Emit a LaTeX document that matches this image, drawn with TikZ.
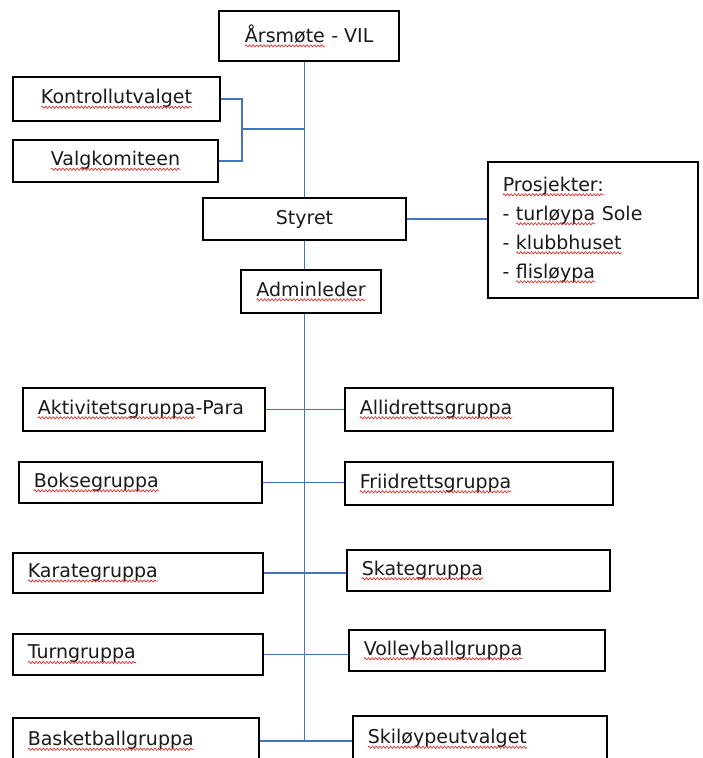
\documentclass[tikz,border=0pt]{standalone}
\usepackage{fontspec}
\setmainfont{DejaVu Sans}
\usetikzlibrary{decorations.pathmorphing}
\definecolor{lineblue}{RGB}{68,114,196}
\definecolor{spellred}{RGB}{230,30,30}
\newcommand\spl[1]{\tikz[x=1pt,y=1pt,baseline=(wd.base)]{\node[inner sep=0pt, outer sep=0pt, draw=none, minimum width=0pt, minimum height=0pt, text width={}, align=none] (wd) {#1};
  \draw[spellred, line width=0.6pt, decorate, decoration={snake, amplitude=1.1pt, segment length=3.6pt}] ([yshift=-3.5pt]wd.base west) -- ([yshift=-3.5pt]wd.base east);}}
\begin{document}
\begin{tikzpicture}[x=1pt,y=-1pt,
  box/.style={draw=black, line width=1.7pt, inner sep=0pt, font=\fontsize{19}{23}\selectfont, text=black!90},
  lbox/.style={box, align=left, inner xsep=14.5pt},
  conn/.style={draw=lineblue, line width=1.7pt}]
\clip (0,0) rectangle (703,758);
% top part
\node[box, minimum width=180pt, minimum height=50pt] (ars) at (309,36) {\spl{Årsmøte} - VIL};
\node[box, minimum width=207pt, minimum height=44pt] (kont) at (116.5,99) {\spl{Kontrollutvalget}};
\node[box, minimum width=205pt, minimum height=42pt] (valg) at (115.5,161) {\spl{Valgkomiteen}};
\node[box, minimum width=203pt, minimum height=42pt] (styret) at (304.5,219) {Styret};
\node[box, minimum width=140pt, minimum height=43pt] (admin) at (311,291.5) {\spl{Adminleder}};
\node[box, align=left, text width=181pt, inner xsep=14.5pt, minimum height=136pt, font=\fontsize{19}{29}\selectfont] (prosj) at (593,230)
  {\spl{Prosjekter:}\\- \spl{turløypa} Sole\\- \spl{klubbhuset}\\- \spl{flisløypa}};
% groups
\node[lbox, text width=213pt, minimum height=43pt] (akt) at (144,409.5) {\spl{Aktivitetsgruppa}-Para};
\node[lbox, text width=239pt, minimum height=43pt] (alli) at (479,409.5) {\spl{Allidrettsgruppa}};
\node[lbox, text width=214pt, minimum height=41pt] (boks) at (140.5,482.5) {\spl{Boksegruppa}};
\node[lbox, text width=239pt, minimum height=43pt] (fri) at (479,483.5) {\spl{Friidrettsgruppa}};
\node[lbox, text width=221pt, minimum height=40pt] (kar) at (138,573) {\spl{Karategruppa}};
\node[lbox, text width=234pt, minimum height=41pt] (skate) at (478.5,570.5) {\spl{Skategruppa}};
\node[lbox, text width=221pt, minimum height=41pt] (turn) at (138,654.5) {\spl{Turngruppa}};
\node[lbox, text width=227pt, minimum height=41pt] (volley) at (477,650.5) {\spl{Volleyballgruppa}};
\node[lbox, text width=217pt, minimum height=46pt] (basket) at (136,741) {\spl{Basketballgruppa}};
\node[lbox, text width=225pt, minimum height=46pt] (ski) at (480,739) {\spl{Skiløypeutvalget}};
% connectors
\coordinate (bk) at (242,129);
\draw[conn] (styret.north |- ars.south) -- (styret.north);
\draw[conn] (kont.east) -| (bk) |- (valg.east);
\draw[conn] (bk) -- (bk -| styret.north);
\draw[conn] (styret.east) -- (styret.east -| prosj.west);
\draw[conn] (styret.south) -- (styret.south |- admin.north);
\draw[conn] (admin.south -| styret.south) -- (styret.south |- basket.east);
\draw[conn] (akt.east) -- (alli.west);
\draw[conn] (boks.east) -- (boks.east -| fri.west);
\draw[conn] (kar.east) -- (kar.east -| skate.west);
\draw[conn] (turn.east) -- (turn.east -| volley.west);
\draw[conn] (basket.east) -- (basket.east -| ski.west);
\end{tikzpicture}
\end{document}
